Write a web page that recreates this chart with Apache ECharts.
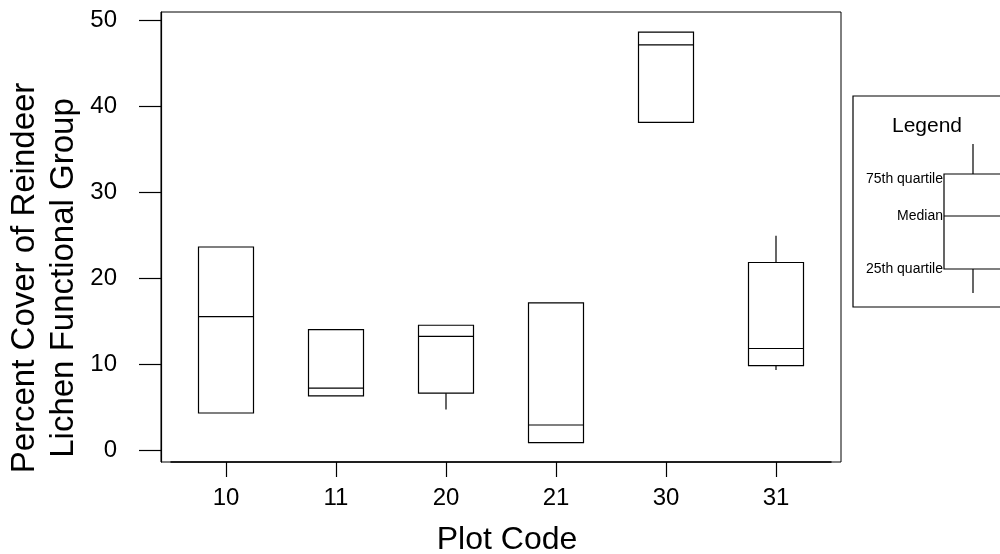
<!DOCTYPE html>
<html>
<head>
<meta charset="utf-8">
<script src="https://cdn.jsdelivr.net/npm/echarts@6/dist/echarts.min.js"></script>
<style>
  html, body { margin: 0; padding: 0; background: #fff; }
  #main { width: 1000px; height: 554px; }
</style>
</head>
<body>
<div id="main"></div>
<script>
// plot codes and box values (percent cover)
const categories = ['10', '11', '20', '21', '30', '31'];
const whiskerLow = [4.3, 6.3, 4.7, 0.85, 38.1, 9.3];
const q1 = [4.3, 6.3, 6.6, 0.85, 38.1, 9.8];
const median = [15.5, 7.2, 13.2, 2.9, 47.1, 11.8];
const q3 = [23.6, 14.0, 14.5, 17.1, 48.6, 21.8];
const whiskerHigh = [23.6, 14.0, 14.5, 17.1, 48.6, 24.9];
const yTicks = [0, 10, 20, 30, 40, 50];

const yMin = -1.4;
const yMax = 50.93;
const font = 'Liberation Sans, Arial, sans-serif';

const boxData = categories.map(function (c, i) {
  return [i, whiskerLow[i], q1[i], median[i], q3[i], whiskerHigh[i]];
});

function renderBox(params, api) {
  const i = api.value(0);
  const lo = api.coord([i, api.value(1)]);
  const b = api.coord([i, api.value(2)]);
  const m = api.coord([i, api.value(3)]);
  const t = api.coord([i, api.value(4)]);
  const hi = api.coord([i, api.value(5)]);
  const half = api.size([1, 0])[0] * 0.25;
  const line = { stroke: '#000', lineWidth: 1.2 };
  return {
    type: 'group',
    children: [
      { type: 'rect', shape: { x: b[0] - half, y: t[1], width: half * 2, height: b[1] - t[1] },
        style: { stroke: '#000', lineWidth: 1.2, fill: '#fff' } },
      { type: 'line', shape: { x1: lo[0], y1: lo[1], x2: b[0], y2: b[1] }, style: line },
      { type: 'line', shape: { x1: t[0], y1: t[1], x2: hi[0], y2: hi[1] }, style: line },
      { type: 'line', shape: { x1: m[0] - half, y1: m[1], x2: m[0] + half, y2: m[1] }, style: line }
    ]
  };
}

const myChart = echarts.init(document.getElementById('main'));
const option = {
  animation: false,
  backgroundColor: '#fff',
  grid: [
    { left: 161, right: 159, top: 12, bottom: 92, outerBoundsMode: 'none', containLabel: false,
      show: true, borderColor: '#000', borderWidth: 1 },
    { left: 171, right: 169, top: 12, bottom: 92, outerBoundsMode: 'none', containLabel: false }
  ],
  xAxis: [
    { gridIndex: 0, type: 'value', min: 0, max: 1, show: false },
    {
      gridIndex: 1,
      type: 'category',
      data: categories,
      axisLine: { show: true, onZero: false, lineStyle: { color: '#000', width: 1.5 } },
      axisTick: { show: true, alignWithLabel: true, length: 15, lineStyle: { color: '#000', width: 1.2 } },
      axisLabel: { color: '#000', fontSize: 24, fontFamily: font, margin: 24 },
      name: 'Plot Code',
      nameLocation: 'middle',
      nameGap: 62,
      nameTextStyle: { color: '#000', fontSize: 32, fontFamily: font, padding: [0, 0, 0, 12] }
    }
  ],
  yAxis: [
    {
      gridIndex: 0,
      type: 'value',
      min: yMin,
      max: yMax,
      splitLine: { show: false },
      axisLine: { show: true, lineStyle: { color: '#000', width: 1.2 } },
      axisTick: { show: true, customValues: yTicks, length: 22, lineStyle: { color: '#000', width: 1.2 } },
      axisLabel: { customValues: yTicks, color: '#000', fontSize: 24, fontFamily: font, margin: 44 }
    },
    { gridIndex: 1, type: 'value', min: yMin, max: yMax, show: false }
  ],
  graphic: [
    {
      type: 'text', x: 44, y: 278, rotation: Math.PI / 2,
      style: {
        text: 'Percent Cover of Reindeer\nLichen Functional Group',
        font: '33px ' + font, fill: '#000', textAlign: 'center', textVerticalAlign: 'middle', lineHeight: 39
      }
    },
    // legend panel
    { type: 'rect', shape: { x: 853, y: 96, width: 160, height: 211 }, style: { fill: '#fff', stroke: '#000', lineWidth: 1.2 } },
    { type: 'text', x: 927, y: 126, style: { text: 'Legend', font: '21px ' + font, fill: '#000', textAlign: 'center', textVerticalAlign: 'middle' } },
    { type: 'line', shape: { x1: 973, y1: 144, x2: 973, y2: 174 }, style: { stroke: '#000', lineWidth: 1.2 } },
    { type: 'line', shape: { x1: 973, y1: 269, x2: 973, y2: 293 }, style: { stroke: '#000', lineWidth: 1.2 } },
    { type: 'rect', shape: { x: 944, y: 174, width: 58, height: 95 }, style: { fill: '#fff', stroke: '#000', lineWidth: 1.2 } },
    { type: 'line', shape: { x1: 944, y1: 216, x2: 1002, y2: 216 }, style: { stroke: '#000', lineWidth: 1.2 } },
    { type: 'text', x: 943, y: 179, style: { text: '75th quartile', font: '14px ' + font, fill: '#000', textAlign: 'right', textVerticalAlign: 'middle' } },
    { type: 'text', x: 943, y: 216, style: { text: 'Median', font: '14px ' + font, fill: '#000', textAlign: 'right', textVerticalAlign: 'middle' } },
    { type: 'text', x: 943, y: 269, style: { text: '25th quartile', font: '14px ' + font, fill: '#000', textAlign: 'right', textVerticalAlign: 'middle' } }
  ],
  series: [
    {
      name: 'Percent Cover',
      type: 'custom',
      xAxisIndex: 1,
      yAxisIndex: 1,
      renderItem: renderBox,
      encode: { x: 0, y: [1, 2, 3, 4, 5] },
      data: boxData
    }
  ]
};
myChart.setOption(option);
</script>
</body>
</html>
